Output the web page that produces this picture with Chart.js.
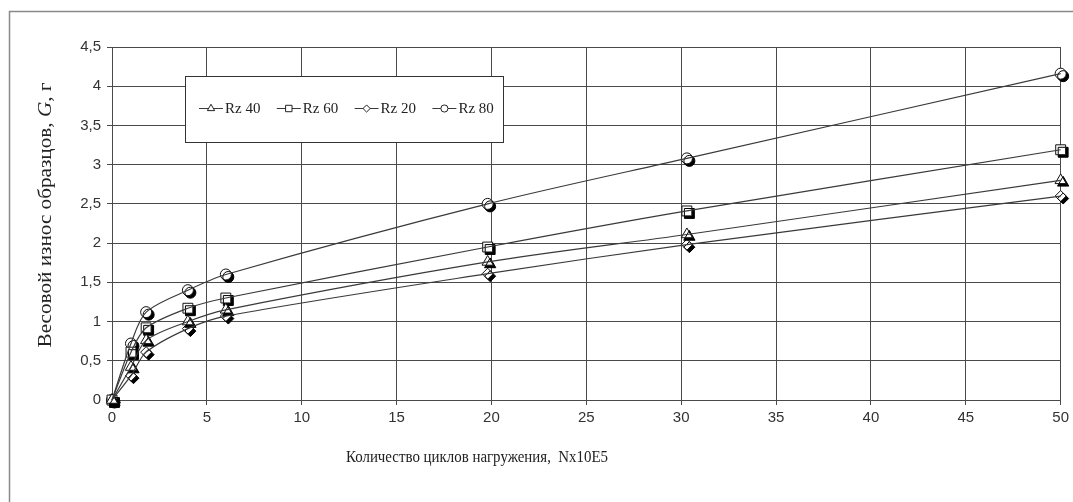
<!DOCTYPE html>
<html>
<head>
<meta charset="utf-8">
<script src="https://cdn.jsdelivr.net/npm/chart.js@4/dist/chart.umd.min.js"></script>
<style>
  html, body { margin: 0; padding: 0; background: #fff; }
  #wrap { width: 1073px; height: 502px; }
</style>
</head>
<body>
<div id="wrap"><canvas id="chart" width="1073" height="502"></canvas></div>
<script>
// cycles, x 10E5
const cycles = [0, 1, 1.8, 4, 6, 19.8, 30.3, 50];
// weight loss, g
const rz40 = [0, 0.42, 0.76, 1.0, 1.15, 1.76, 2.11, 2.8];
const rz60 = [0, 0.61, 0.92, 1.17, 1.3, 1.95, 2.41, 3.19];
const rz20 = [0, 0.31, 0.61, 0.91, 1.07, 1.61, 1.98, 2.6];
const rz80 = [0, 0.72, 1.12, 1.4, 1.6, 2.5, 3.08, 4.16];

const seriesNames = ['Rz 40', 'Rz 60', 'Rz 20', 'Rz 80'];
const seriesValues = [rz40, rz60, rz20, rz80];
const markerStyles = ['triangle', 'rect', 'rectRot', 'circle'];
const markerSizes = [6.5, 7, 5.5, 5.5];

const xTitle = 'Количество циклов нагружения,  Nx10E5';
const yTitleParts = ['Весовой износ образцов, ', 'G', ', г'];

const LINE = '#3a3a3a';
const GRID = '#4a4a4a';
const SERIF = '"Liberation Serif", "Times New Roman", serif';
const SANS = '"Liberation Sans", Arial, sans-serif';

const toPts = vals => vals.map((v, i) => ({ x: cycles[i], y: v }));
const comma = v => String(Number(v.toFixed(1))).replace('.', ',');

const datasets = [];
// lines first
seriesValues.forEach((vals, i) => {
  datasets.push({
    label: seriesNames[i],
    data: toPts(vals),
    showLine: true,
    borderColor: LINE,
    borderWidth: 1.2,
    pointRadius: 0,
    tension: 0.3,
    fill: false,
    clip: false
  });
});
// markers on top, with a drop shadow
seriesValues.forEach((vals, i) => {
  datasets.push({
    label: seriesNames[i] + ' markers',
    data: toPts(vals),
    showLine: false,
    pointStyle: markerStyles[i],
    pointRadius: markerSizes[i],
    pointBackgroundColor: '#fff',
    pointBorderColor: '#111',
    pointBorderWidth: 1,
    clip: false,
    isMarker: true
  });
});

// draw text squeezed/stretched to a given length
function fitText(ctx, parts, fonts, length) {
  let total = 0;
  parts.forEach((p, i) => { ctx.font = fonts[i]; total += ctx.measureText(p).width; });
  ctx.scale(length / total, 1);
  let cx = -total / 2;
  parts.forEach((p, i) => {
    ctx.font = fonts[i];
    ctx.fillText(p, cx, 0);
    cx += ctx.measureText(p).width;
  });
}

const decor = {
  id: 'decor',
  beforeDraw(chart) {
    const ctx = chart.ctx;
    ctx.save();
    ctx.fillStyle = '#fff';
    ctx.fillRect(0, 0, chart.width, chart.height);
    // outer frame (only left and top show in the crop)
    ctx.strokeStyle = '#8a8a8a';
    ctx.lineWidth = 1.5;
    ctx.beginPath();
    ctx.moveTo(9.5, chart.height);
    ctx.lineTo(9.5, 11.5);
    ctx.lineTo(chart.width, 11.5);
    ctx.stroke();
    ctx.restore();
  },
  beforeDatasetDraw(chart, args) {
    const ds = chart.data.datasets[args.index];
    if (!ds.isMarker) return;
    const ctx = chart.ctx;
    ctx.save();
    ctx.shadowColor = '#000';
    ctx.shadowOffsetX = 2.5;
    ctx.shadowOffsetY = 2.5;
    ctx.shadowBlur = 0;
  },
  afterDatasetDraw(chart, args) {
    const ds = chart.data.datasets[args.index];
    if (!ds.isMarker) return;
    chart.ctx.restore();
  },
  afterDraw(chart) {
    const ctx = chart.ctx;
    ctx.save();
    ctx.fillStyle = '#222';
    ctx.textAlign = 'left';
    ctx.textBaseline = 'middle';

    // x title
    ctx.save();
    ctx.translate(477, 458);
    fitText(ctx, [xTitle], ['17px ' + SERIF], 262);
    ctx.restore();

    // y title
    ctx.save();
    ctx.translate(46, 215);
    ctx.rotate(-Math.PI / 2);
    fitText(ctx, yTitleParts, ['19px ' + SERIF, 'italic 19px ' + SERIF, '19px ' + SERIF], 265);
    ctx.restore();

    // legend box
    const bx = 185.5, by = 76.5, bw = 318, bh = 66;
    ctx.fillStyle = '#fff';
    ctx.fillRect(bx, by, bw, bh);
    ctx.strokeStyle = '#333';
    ctx.lineWidth = 1;
    ctx.strokeRect(bx, by, bw, bh);

    const ly = 108;
    ctx.font = '15px ' + SERIF;
    seriesNames.forEach((name, i) => {
      const x0 = 199 + i * 77.8;
      ctx.strokeStyle = LINE;
      ctx.lineWidth = 1;
      ctx.beginPath();
      ctx.moveTo(x0, ly + 0.5);
      ctx.lineTo(x0 + 24, ly + 0.5);
      ctx.stroke();
      ctx.fillStyle = '#fff';
      ctx.strokeStyle = '#222';
      Chart.helpers.drawPoint(ctx, {
        pointStyle: markerStyles[i],
        radius: markerSizes[i] * 0.65,
        borderWidth: 1,
        rotation: 0
      }, x0 + 12, ly + 0.5);
      ctx.fillStyle = '#222';
      ctx.fillText(name, x0 + 26, ly + 1);
    });

    ctx.restore();
  }
};

new Chart(document.getElementById('chart'), {
  type: 'scatter',
  data: { datasets },
  plugins: [decor],
  options: {
    responsive: false,
    animation: false,
    events: [],
    layout: { padding: { top: 47, right: 12, left: 0, bottom: 0 } },
    plugins: {
      legend: { display: false },
      tooltip: { enabled: false }
    },
    scales: {
      x: {
        type: 'linear',
        min: 0,
        max: 50,
        afterFit: s => { s.height = 102; },
        ticks: {
          stepSize: 5,
          color: '#333',
          font: { family: SANS, size: 15 },
          padding: 4,
          maxRotation: 0
        },
        grid: { color: GRID, lineWidth: 1, tickLength: 5, tickColor: GRID },
        border: { color: GRID, width: 1 }
      },
      y: {
        type: 'linear',
        min: 0,
        max: 4.5,
        afterFit: s => { s.width = 112; },
        ticks: {
          stepSize: 0.5,
          color: '#333',
          font: { family: SANS, size: 15 },
          padding: 6,
          callback: v => comma(v)
        },
        grid: { color: GRID, lineWidth: 1, tickLength: 5, tickColor: GRID },
        border: { color: GRID, width: 1 }
      }
    }
  }
});
</script>
</body>
</html>
